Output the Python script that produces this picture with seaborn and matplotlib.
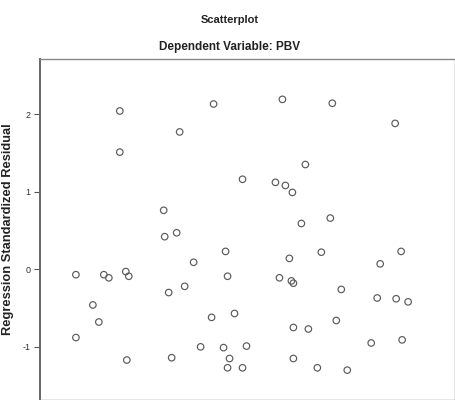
import matplotlib
matplotlib.use("Agg")
import matplotlib.pyplot as plt
import seaborn as sns
import pandas as pd

# Regression residual scatter
pred_std = [
    -1.72, -1.72, -1.55, -1.49, -1.44, -1.39, -1.22, -1.19, -1.21, -1.28,
    -1.28, -0.84, -0.83, -0.71, -0.79, -0.76, -0.68, -0.63, -0.54, -0.47,
    -0.34, -0.36, -0.24, -0.22, -0.20, -0.18, -0.20, -0.13, -0.05, -0.05,
    -0.01, 0.35, 0.28, 0.38, 0.45, 0.58, 0.54, 0.32, 0.42, 0.44,
    0.46, 0.46, 0.46, 0.61, 0.70, 0.83, 0.85, 0.74, 0.89, 0.94,
    1.00, 1.24, 1.30, 1.33, 1.48, 1.49, 1.54, 1.55, 1.61,
]
resid_std = [
    -0.07, -0.88, -0.46, -0.68, -0.07, -0.11, -0.03, -0.09, -1.17, 2.04,
    1.51, 0.76, 0.42, 0.47, -0.30, -1.14, 1.77, -0.22, 0.09, -1.00,
    2.13, -0.62, -1.01, 0.23, -0.09, -1.15, -1.27, -0.57, 1.16, -1.27,
    -0.99, 2.19, 1.12, 1.08, 0.99, 1.35, 0.59, -0.11, 0.14, -0.15,
    -0.18, -0.75, -1.15, -0.77, -1.27, 0.66, 2.14, 0.22, -0.66, -0.26,
    -1.30, -0.95, -0.37, 0.07, 1.88, -0.38, 0.23, -0.91, -0.42,
]
ytick_vals = [-1, 0, 1, 2]

df = pd.DataFrame({"pred": pred_std, "resid": resid_std})

sns.set_style("white")
plt.rcParams["font.family"] = ["Liberation Sans", "DejaVu Sans"]

fig = plt.figure(figsize=(4.56, 4.0), dpi=100)
ax = fig.add_axes([40 / 456, 0.0, 415 / 456, 1 - 59 / 400])

sns.scatterplot(data=df, x="pred", y="resid", ax=ax, marker="o", s=22,
                facecolor="none", edgecolor="#5a5a5a", linewidth=0.85)

ax.set_xlim(-2.08, 2.08)
ax.set_ylim(-1.685, 2.71)
ax.set_xticks([])
ax.set_yticks(ytick_vals)
ax.set_yticklabels([str(v) for v in ytick_vals], fontsize=6.5, color="#333333")
ax.tick_params(axis="y", which="major", left=True, length=4, width=0.8,
               color="#555555", pad=3)
ax.set_xlabel("")
ax.set_ylabel("Regression Standardized Residual", fontsize=9.3,
              fontweight="bold", labelpad=6, color="#222222")

for side in ["left", "top", "right", "bottom"]:
    ax.spines[side].set_color("#888888")
    ax.spines[side].set_linewidth(1.0)
ax.spines["left"].set_color("#666666")
ax.spines["left"].set_linewidth(1.4)

fig.text(0.505, 1 - 20 / 400, "Scatterplot", ha="center", va="center",
         fontsize=8, fontweight="bold", color="#222222")
fig.text(0.503, 1 - 47 / 400, "Dependent Variable: PBV", ha="center",
         va="center", fontsize=8.5, fontweight="bold", color="#222222")

fig.savefig("out.png", dpi=100)
